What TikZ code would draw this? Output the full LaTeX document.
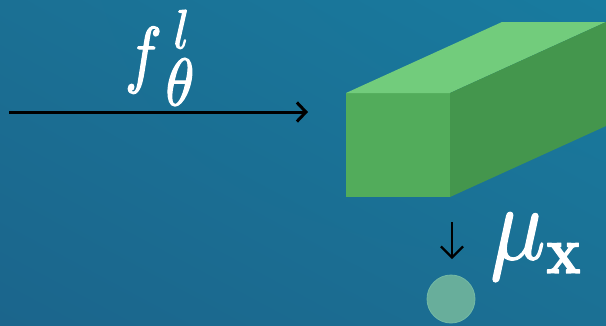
\documentclass[tikz,border=0pt]{standalone}
\usepackage{amsmath}
\usepackage{graphicx}
\usetikzlibrary{arrows.meta,shadings}
\definecolor{bgdark}{RGB}{27,101,140}
\definecolor{bgmid}{RGB}{27,112,148}
\definecolor{bglight}{RGB}{24,123,159}
\definecolor{boxfront}{RGB}{82,172,91}
\definecolor{boxtop}{RGB}{114,204,124}
\definecolor{boxside}{RGB}{68,150,77}
\definecolor{dotfill}{RGB}{104,174,155}
\definecolor{dotedge}{RGB}{116,186,165}
% #1 horizontal size (pt), #2 vertical size (pt), #3 math; glyph outline stroked for a heavier look
\newcommand{\glyph}[3]{\scalebox{\fpeval{#1/10}}[\fpeval{#2/10}]{\fontsize{10}{12}\selectfont
  \special{pdf:literal direct 2 Tr \fpeval{round(1.1/(#1/10),3)} w 1 j}$#3$\special{pdf:literal direct 0 Tr}}}
\tikzset{
  glyphnode/.style={anchor=base west, inner sep=0pt, outer sep=0pt, text=white},
  flowarrow/.style={draw=black, line width=3pt, -{Straight Barb[length=9pt,width=19pt,line width=3pt]}},
  downarrow/.style={draw=black, line width=2.3pt, -{Straight Barb[length=11pt,width=22pt,line width=2.3pt]}},
  dot/.style={circle, fill=dotfill, draw=dotedge, line width=0.8pt, minimum size=48pt, inner sep=0pt}
}
\begin{document}
\begin{tikzpicture}[x=1pt, y=-1pt]
\useasboundingbox (0,0) rectangle (606,325);
\shade[lower left=bgdark, upper right=bglight, lower right=bgmid, upper left=bgmid] (0,0) rectangle (606,325);
% cuboid
\fill[boxfront] (346,93) rectangle (450,197);
\fill[boxtop] (346,93) -- (450,93) -- (606,22) -- (502,22) -- cycle;
\fill[boxside] (450,93) -- (606,22) -- (606,126) -- (450,197) -- cycle;
% main arrow
\coordinate (a1) at (9,112);
\coordinate (a2) at (308,112);
\draw[flowarrow] (a1) -- (a2);
% label f^l_theta
\node[glyphnode] (lab) at (124.9,78.6) {\glyph{62}{74}{f}\hspace{3.6pt}\rlap{\hspace{8pt}\raisebox{30.4pt}{\glyph{50}{55}{l}}}\raisebox{-26.7pt}{\glyph{58}{67}{\theta}}};
% down arrow and dot
\coordinate (d1) at (452,222);
\coordinate (d2) at (452,259);
\draw[downarrow] (d1) -- (d2);
\node[dot] (c) at (451,299) {};
% label mu_x
\node[glyphnode] (lmu) at (490.2,259.1) {\glyph{92}{106}{\mu}\hspace{0.6pt}\raisebox{-13.9pt}{\glyph{57}{67}{\mathbf{x}}}};
\end{tikzpicture}
\end{document}
